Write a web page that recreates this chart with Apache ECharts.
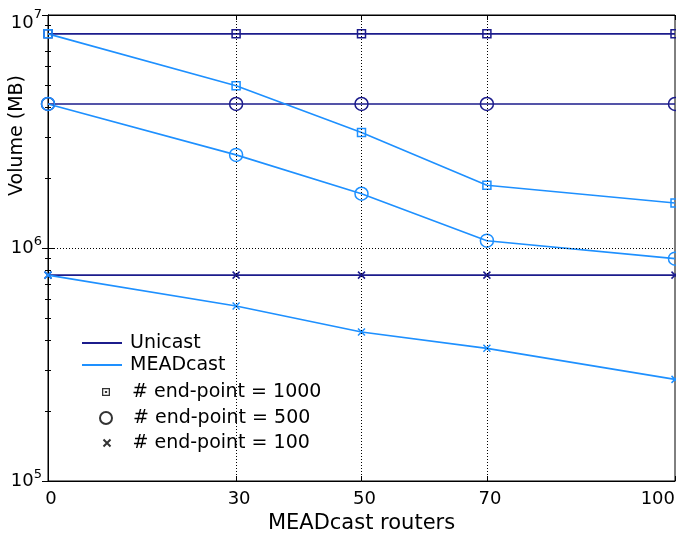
<!DOCTYPE html>
<html>
<head>
<meta charset="utf-8">
<script src="https://cdn.jsdelivr.net/npm/echarts@6/dist/echarts.min.js"></script>
<style>html,body{margin:0;padding:0;background:#fff;}#c{width:676px;height:535px;}</style>
</head>
<body>
<div id="c"></div>
<script>
// ---- data ----
const routers = [0, 30, 50, 70, 100];
const xTickValues = [0, 30, 50, 70, 100];
const unicast1000 = [8.3e6, 8.3e6, 8.3e6, 8.3e6, 8.3e6];
const unicast500 = [4.15e6, 4.15e6, 4.15e6, 4.15e6, 4.15e6];
const unicast100 = [7.65e5, 7.65e5, 7.65e5, 7.65e5, 7.65e5];
const mead1000 = [8.3e6, 4.97e6, 3.13e6, 1.86e6, 1.56e6];
const mead500 = [4.15e6, 2.51e6, 1.71e6, 1.075e6, 9.0e5];
const mead100 = [7.65e5, 5.64e5, 4.36e5, 3.71e5, 2.73e5];
const lineNames = ['Unicast', 'MEADcast'];
const markerNames = ['# end-point = 1000', '# end-point = 500', '# end-point = 100'];
const gridX = [30, 50, 70];
const gridY = [1e6];

const NAVY = '#1c1c8c';
const DODGER = '#1e90ff';
const FONT = 'DejaVu Sans';
const SQUARE = 'rect';
const CROSS = 'path://M0,0L10,10M10,0L0,10';
const SQUARE_LEG = 'path://M0,0H10V10H0Z M1.6,1.6V8.4H8.4V1.6Z M3.6,3.6H6.4V6.4H3.6Z';

function pts(arr) { return routers.map((x, i) => [x, arr[i]]); }
function dataSeries(name, arr, color, symbol, size) {
  return {
    type: 'line', name: name, data: pts(arr), symbol: symbol, symbolSize: size,
    showAllSymbol: true, silent: true, z: 3,
    lineStyle: { color: color, width: 1.6 },
    itemStyle: { color: 'transparent', borderColor: color, borderWidth: 1.5 }
  };
}

const chart = echarts.init(document.getElementById('c'), null, { renderer: 'canvas' });

const legendBase = {
  orient: 'vertical', padding: 0, itemGap: 0, selectedMode: false,
  textStyle: { fontFamily: FONT, fontSize: 19, color: '#000', lineHeight: 20 }
};

const option = {
  animation: false,
  backgroundColor: '#fff',
  grid: { left: 48, right: 1, top: 15, bottom: 54, containLabel: false, outerBoundsMode: 'none', show: true, borderColor: '#000', borderWidth: 1, backgroundColor: 'transparent' },
  xAxis: [{
    type: 'value', min: 0, max: 100, interval: 10,
    name: 'MEADcast routers', nameLocation: 'middle', nameGap: 32,
    nameTextStyle: { fontFamily: FONT, fontSize: 21, color: '#000' },
    axisLine: { lineStyle: { color: '#000', width: 1 } },
    axisTick: { show: true, inside: true, length: 5, customValues: xTickValues, lineStyle: { color: '#000' } },
    axisLabel: { customValues: xTickValues, fontFamily: FONT, fontSize: 18, color: '#000', margin: 9, padding: [0, 0, 0, 6], alignMaxLabel: 'right' },
    splitLine: { show: false }
  }, {
    type: 'value', min: 0, max: 100, interval: 10, position: 'top',
    axisLine: { lineStyle: { color: '#000', width: 1 } },
    axisTick: { show: true, inside: true, length: 5, customValues: xTickValues, lineStyle: { color: '#000' } },
    axisLabel: { show: false }, splitLine: { show: false }
  }],
  yAxis: [{
    type: 'log', logBase: 10, min: 1e5, max: 1e7,
    axisLine: { lineStyle: { color: '#000', width: 1 } },
    axisTick: { show: true, inside: true, length: 6, lineStyle: { color: '#000' } },
    minorTick: { show: true, splitNumber: 9, length: 3, lineStyle: { color: '#000' } },
    axisLabel: {
      margin: 6, color: '#000',
      formatter: function (v) {
        const e = Math.round(Math.log10(v));
        return e === 7 ? '{bt|10}{st|' + e + '}' : '{b|10}{s|' + e + '}';
      },
      rich: {
        b: { fontFamily: FONT, fontSize: 18, color: '#000' },
        bt: { fontFamily: FONT, fontSize: 18, color: '#000', padding: [16, 0, 0, 0] },
        s: { fontFamily: FONT, fontSize: 13, color: '#000', padding: [0, 0, 12, 0] },
        st: { fontFamily: FONT, fontSize: 13, color: '#000' }
      }
    },
    splitLine: { show: false }
  }, {
    type: 'log', logBase: 10, min: 1e5, max: 1e7, position: 'right',
    axisLine: { lineStyle: { color: '#000', width: 1 } },
    axisTick: { show: true, inside: true, length: 6, lineStyle: { color: '#000' } },
    minorTick: { show: true, splitNumber: 9, length: 3, lineStyle: { color: '#000' } },
    axisLabel: { show: false }, splitLine: { show: false }
  }],
  legend: [
    Object.assign({}, legendBase, { data: [{ name: lineNames[0], icon: 'rect' }], left: 82, top: 333, itemWidth: 40, itemHeight: 2, textStyle: Object.assign({}, legendBase.textStyle, { padding: [0, 0, 0, 3] }) }),
    Object.assign({}, legendBase, { data: [{ name: lineNames[1], icon: 'rect' }], left: 82, top: 355, itemWidth: 40, itemHeight: 2, textStyle: Object.assign({}, legendBase.textStyle, { padding: [0, 0, 0, 3] }) }),
    Object.assign({}, legendBase, { data: [markerNames[0]], left: 102, top: 382, itemWidth: 8, itemHeight: 8, textStyle: Object.assign({}, legendBase.textStyle, { padding: [0, 0, 0, 17] }) }),
    Object.assign({}, legendBase, { data: [markerNames[1]], left: 99, top: 408, itemWidth: 12, itemHeight: 12, textStyle: Object.assign({}, legendBase.textStyle, { padding: [0, 0, 0, 16] }) }),
    Object.assign({}, legendBase, { data: [markerNames[2]], left: 102.5, top: 433, itemWidth: 7, itemHeight: 7, textStyle: Object.assign({}, legendBase.textStyle, { padding: [0, 0, 0, 17] }) })
  ],
  graphic: [{
    type: 'text', left: 8, top: 75, rotation: Math.PI / 2, silent: true,
    style: { text: 'Volume (MB)', fontFamily: FONT, fontSize: 19, fill: '#000' }
  }],
  series: [
    {
      type: 'line', name: 'gridlines', data: [], silent: true, z: 1,
      markLine: {
        silent: true, symbol: ['none', 'none'], label: { show: false },
        lineStyle: { color: '#000', width: 1, type: [1, 2] },
        data: gridX.map(v => ({ xAxis: v })).concat(gridY.map(v => ({ yAxis: v })))
      }
    },
    dataSeries('Unicast 1000', unicast1000, NAVY, SQUARE, 8),
    dataSeries('Unicast 500', unicast500, NAVY, 'circle', 13),
    dataSeries('Unicast 100', unicast100, NAVY, CROSS, 7),
    dataSeries('MEADcast 1000', mead1000, DODGER, SQUARE, 8),
    dataSeries('MEADcast 500', mead500, DODGER, 'circle', 13),
    dataSeries('MEADcast 100', mead100, DODGER, CROSS, 7),
    { type: 'line', name: lineNames[0], data: [], symbol: 'none', color: NAVY, itemStyle: { color: NAVY }, lineStyle: { color: NAVY, width: 2 } },
    { type: 'line', name: lineNames[1], data: [], symbol: 'none', color: DODGER, itemStyle: { color: DODGER }, lineStyle: { color: DODGER, width: 2 } },
    { type: 'scatter', name: markerNames[0], data: [], symbol: SQUARE_LEG, itemStyle: { color: '#000' } },
    { type: 'scatter', name: markerNames[1], data: [], symbol: 'circle', itemStyle: { color: '#fff', borderColor: '#000', borderWidth: 1.5 } },
    { type: 'scatter', name: markerNames[2], data: [], symbol: CROSS, itemStyle: { color: 'transparent', borderColor: '#000', borderWidth: 1.5 } }
  ]
};
chart.setOption(option);
</script>
</body>
</html>
